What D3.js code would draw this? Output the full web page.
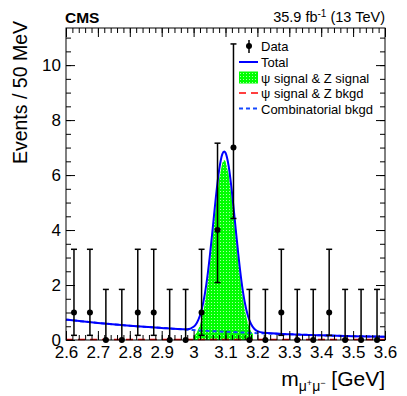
<!DOCTYPE html>
<html>
<head>
<meta charset="utf-8">
<script src="https://cdn.jsdelivr.net/npm/d3@7"></script>
<style>
  body { margin: 0; background: #fff; }
  text { font-family: "Liberation Sans", Arial, sans-serif; fill: #000; }
</style>
</head>
<body>
<div id="chart"></div>
<script>
"use strict";

// Data, 50 MeV bins
var binCenters = [2.625, 2.675, 2.725, 2.775, 2.825, 2.875, 2.925, 2.975, 3.025, 3.075,
                  3.125, 3.175, 3.225, 3.275, 3.325, 3.375, 3.425, 3.475, 3.525, 3.575];
var counts  = [1, 1, 0, 0, 1, 1, 0, 0, 1, 4, 7, 0, 0, 1, 0, 0, 1, 0, 0, 0];
var errLow  = [0.17, 0.17, 0, 0, 0.17, 0.17, 0, 0, 0.17, 2.09, 4.42, 0, 0, 0.17, 0, 0, 0.17, 0, 0, 0];
var errHigh = [3.30, 3.30, 1.84, 1.84, 3.30, 3.30, 1.84, 1.84, 3.30, 7.16, 10.77, 1.84, 1.84, 3.30, 1.84, 1.84, 3.30, 1.84, 1.84, 1.84];

// Fit curves
var totalMass   = [2.6, 2.7, 2.8, 2.9, 2.95, 2.98, 3.0, 3.01, 3.02, 3.03, 3.04, 3.05, 3.06, 3.07, 3.08, 3.09, 3.096,
                   3.10, 3.11, 3.12, 3.13, 3.14, 3.15, 3.16, 3.17, 3.18, 3.19, 3.20, 3.22, 3.3, 3.4, 3.5, 3.6];
var totalEvents = [0.74, 0.62, 0.52, 0.44, 0.40, 0.39, 0.48, 0.62, 0.89, 1.34, 2.03, 2.96, 4.07, 5.22, 6.18, 6.76, 6.86,
                   6.81, 6.32, 5.40, 4.27, 3.13, 2.14, 1.39, 0.89, 0.58, 0.41, 0.32, 0.26, 0.21, 0.17, 0.14, 0.12];

var signalMass   = [3.0, 3.0, 3.01, 3.02, 3.03, 3.04, 3.05, 3.06, 3.07, 3.08, 3.09, 3.096, 3.10, 3.11, 3.12,
                    3.13, 3.14, 3.15, 3.16, 3.17, 3.18, 3.186, 3.186];
var signalEvents = [0, 0.12, 0.27, 0.54, 1.00, 1.69, 2.63, 3.74, 4.89, 5.86, 6.45, 6.55, 6.50, 6.02, 5.10,
                    3.97, 2.84, 1.86, 1.11, 0.61, 0.31, 0.22, 0];

var combMass   = [2.6, 2.7, 2.8, 2.9, 3.0, 3.1, 3.2, 3.3, 3.4, 3.5, 3.6];
var combEvents = [0.74, 0.62, 0.52, 0.44, 0.36, 0.30, 0.25, 0.21, 0.17, 0.14, 0.12];

var psiBkgMass   = [2.6, 3.6];
var psiBkgEvents = [0.02, 0.02];

var xTicks = [2.6, 2.7, 2.8, 2.9, 3.0, 3.1, 3.2, 3.3, 3.4, 3.5, 3.6];
var yTicks = [0, 2, 4, 6, 8, 10];
var legendLabels = ["Data", "Total", "\u03c8 signal & Z signal", "\u03c8 signal & Z bkgd", "Combinatorial bkgd"];

var margin = { top: 28, right: 22, bottom: 56, left: 66 },
    width = 407 - margin.left - margin.right,
    height = 396 - margin.top - margin.bottom;

var root = d3.select("#chart")
             .append("svg")
             .attr("width", 407)
             .attr("height", 396);

// fill pattern for the signal area
var pat = root.append("defs").append("pattern")
              .attr("id", "sigfill")
              .attr("width", 3).attr("height", 3)
              .attr("patternUnits", "userSpaceOnUse");
pat.append("rect").attr("width", 3).attr("height", 3).attr("fill", "#00ff00");
pat.append("rect").attr("x", 1).attr("y", 1).attr("width", 1).attr("height", 1).attr("fill", "#a8ffa8");

var svg = root.append("g")
              .attr("transform", "translate(" + margin.left + "," + margin.top + ")");

// Scales
var xScale = d3.scaleLinear().domain([2.6, 3.6]).range([0, width]);
var yScale = d3.scaleLinear().domain([0, 11.35]).range([height, 0]);

function pairs(xs, ys) { return xs.map(function (d, i) { return [d, ys[i]]; }); }

var line = d3.line()
             .x(function (d) { return xScale(d[0]); })
             .y(function (d) { return yScale(d[1]); })
             .curve(d3.curveMonotoneX);

// signal area
svg.append("path")
   .attr("d", d3.line()
                .x(function (d) { return xScale(d[0]); })
                .y(function (d) { return yScale(d[1]); })
                .curve(d3.curveLinear)(pairs(signalMass, signalEvents)) + "Z")
   .attr("fill", "url(#sigfill)")
   .attr("stroke", "none");

// psi bkgd (red dashed)
svg.append("path")
   .attr("d", line(pairs(psiBkgMass, psiBkgEvents)))
   .attr("fill", "none")
   .attr("stroke", "#ff0000")
   .attr("stroke-width", 1.5)
   .attr("stroke-dasharray", "7,5");

// combinatorial bkgd (blue dashed)
svg.append("path")
   .attr("d", line(pairs(combMass, combEvents)))
   .attr("fill", "none")
   .attr("stroke", "#1448ff")
   .attr("stroke-width", 2)
   .attr("stroke-dasharray", "4,3");

// total
svg.append("path")
   .attr("d", line(pairs(totalMass, totalEvents)))
   .attr("fill", "none")
   .attr("stroke", "#0000ff")
   .attr("stroke-width", 2);

// Axes (ROOT style ticks pointing inwards)
function minorTicks(a, b, step) {
  return d3.range(Math.round((b - a) / step) + 1).map(function (i) { return a + i * step; });
}
var xMinor = minorTicks(2.6, 3.6, 0.02);
var yMinor = minorTicks(0, 11, 0.5);

svg.append("g")
   .attr("transform", "translate(0," + height + ")")
   .call(d3.axisBottom(xScale).tickValues(xMinor).tickSize(-5).tickFormat(""));
svg.append("g")
   .attr("class", "xlab")
   .attr("transform", "translate(0," + height + ")")
   .call(d3.axisBottom(xScale).tickValues(xTicks).tickSize(-9).tickPadding(6).tickFormat(d3.format("~g")));
svg.append("g")
   .call(d3.axisTop(xScale).tickValues(xMinor).tickSize(-5).tickFormat(""));
svg.append("g")
   .call(d3.axisTop(xScale).tickValues(xTicks).tickSize(-9).tickFormat(""));

svg.append("g")
   .call(d3.axisLeft(yScale).tickValues(yMinor).tickSize(-5).tickFormat(""));
svg.append("g")
   .attr("class", "ylab")
   .call(d3.axisLeft(yScale).tickValues(yTicks).tickSize(-9).tickPadding(5));
svg.append("g")
   .attr("transform", "translate(" + width + ",0)")
   .call(d3.axisRight(yScale).tickValues(yMinor).tickSize(-5).tickFormat(""));
svg.append("g")
   .attr("transform", "translate(" + width + ",0)")
   .call(d3.axisRight(yScale).tickValues(yTicks).tickSize(-9).tickFormat(""));

svg.selectAll(".domain").remove();
svg.selectAll(".tick line").attr("stroke", "#000").attr("stroke-width", 1);
svg.selectAll(".xlab text, .ylab text")
   .attr("font-size", 17)
   .attr("font-family", "Liberation Sans, Arial, sans-serif")
   .attr("fill", "#000");

svg.append("rect")
   .attr("width", width).attr("height", height)
   .attr("fill", "none").attr("stroke", "#000").attr("stroke-width", 1);

// Data points with error bars
var pts = svg.selectAll("g.pt")
             .data(binCenters)
             .enter()
             .append("g")
             .attr("class", "pt");
pts.append("line")
   .attr("x1", function (d) { return xScale(d); })
   .attr("x2", function (d) { return xScale(d); })
   .attr("y1", function (d, i) { return yScale(errLow[i]); })
   .attr("y2", function (d, i) { return yScale(errHigh[i]); })
   .attr("stroke", "#000").attr("stroke-width", 1.5);
pts.append("line")
   .attr("x1", function (d) { return xScale(d) - 3; })
   .attr("x2", function (d) { return xScale(d) + 3; })
   .attr("y1", function (d, i) { return yScale(errHigh[i]); })
   .attr("y2", function (d, i) { return yScale(errHigh[i]); })
   .attr("stroke", "#000").attr("stroke-width", 1.5);
pts.filter(function (d, i) { return errLow[i] > 0; })
   .append("line")
   .attr("x1", function (d) { return xScale(d) - 3; })
   .attr("x2", function (d) { return xScale(d) + 3; })
   .attr("y1", function (d) { return yScale(errLow[binCenters.indexOf(d)]); })
   .attr("y2", function (d) { return yScale(errLow[binCenters.indexOf(d)]); })
   .attr("stroke", "#000").attr("stroke-width", 1.5);
pts.append("circle")
   .attr("cx", function (d) { return xScale(d); })
   .attr("cy", function (d, i) { return yScale(counts[i]); })
   .attr("r", 3)
   .attr("fill", "#000");

// Legend
var leg = root.append("g").attr("transform", "translate(239,0)");
var rowY = [46, 62, 77.5, 93, 108.5];
leg.selectAll("text.lab")
   .data(legendLabels)
   .enter()
   .append("text")
   .attr("x", 22)
   .attr("y", function (d, i) { return rowY[i] + 5; })
   .attr("font-size", 13)
   .text(function (d) { return d; });
leg.append("line").attr("x1", 10).attr("x2", 10).attr("y1", 40).attr("y2", 53)
   .attr("stroke", "#000").attr("stroke-width", 1.5);
leg.append("circle").attr("cx", 10).attr("cy", rowY[0]).attr("r", 3).attr("fill", "#000");
leg.append("line").attr("x1", 0).attr("x2", 19).attr("y1", rowY[1]).attr("y2", rowY[1])
   .attr("stroke", "#0000ff").attr("stroke-width", 2);
leg.append("rect").attr("x", 0).attr("y", rowY[2] - 6).attr("width", 19).attr("height", 12)
   .attr("fill", "url(#sigfill)");
leg.append("line").attr("x1", 0).attr("x2", 19).attr("y1", rowY[3]).attr("y2", rowY[3])
   .attr("stroke", "#ff0000").attr("stroke-width", 1.5).attr("stroke-dasharray", "7,5");
leg.append("line").attr("x1", 0).attr("x2", 19).attr("y1", rowY[4]).attr("y2", rowY[4])
   .attr("stroke", "#1448ff").attr("stroke-width", 2).attr("stroke-dasharray", "4,3");

// Titles
root.append("text")
    .attr("x", 65).attr("y", 22.5)
    .attr("font-size", 15.5).attr("font-weight", "bold")
    .text("CMS");

var lumi = root.append("text")
               .attr("x", 385).attr("y", 21.7)
               .attr("text-anchor", "end")
               .attr("font-size", 14.5);
lumi.append("tspan").text("35.9 fb");
lumi.append("tspan").attr("dy", -5).attr("font-size", 10).text("-1");
lumi.append("tspan").attr("dy", 5).text(" (13 TeV)");

root.append("text")
    .attr("transform", "translate(27,21) rotate(-90)")
    .attr("text-anchor", "end")
    .attr("font-size", 19.5)
    .text("Events / 50 MeV");

var xt = root.append("text")
             .attr("x", 385).attr("y", 386)
             .attr("text-anchor", "end")
             .attr("font-size", 21);
xt.append("tspan").text("m");
xt.append("tspan").attr("dy", 5).attr("font-size", 14).text("\u03bc");
xt.append("tspan").attr("dy", -5).attr("font-size", 9).text("+");
xt.append("tspan").attr("dy", 5).attr("font-size", 14).text("\u03bc");
xt.append("tspan").attr("dy", -5).attr("font-size", 9).text("\u2212");
xt.append("tspan").attr("dy", -0.0001).text(" [GeV]");
</script>
</body>
</html>
